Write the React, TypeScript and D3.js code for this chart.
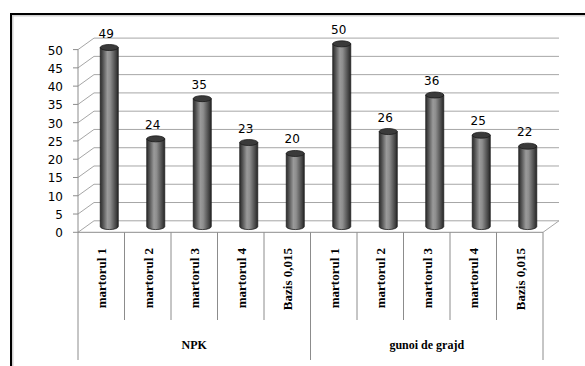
import React from "react";
import * as d3 from "d3";

const groups = ["NPK", "gunoi de grajd"];
const categories = ["martorul 1", "martorul 2", "martorul 3", "martorul 4", "Bazis 0,015"];
const npkValues = [49, 24, 35, 23, 20];
const gunoiValues = [50, 26, 36, 25, 22];
const yTicks = [0, 5, 10, 15, 20, 25, 30, 35, 40, 45, 50];

const W = 585;
const H = 366;
const DX = 16;
const DY = -11.5;

export default function App() {
  const items = [
    ...npkValues.map((v, i) => ({ key: `g0-${i}`, group: 0, label: categories[i], value: v })),
    ...gunoiValues.map((v, i) => ({ key: `g1-${i}`, group: 1, label: categories[i], value: v })),
  ];
  const x = d3.scaleBand<string>().domain(items.map((d) => d.key)).range([78, 543]).paddingInner(0).paddingOuter(0);
  const y = d3.scaleLinear().domain([0, 50]).range([232.3, 49.6]);
  const bw = x.bandwidth();
  const barR = 9;
  const ry = 3;
  const gridColor = "#a6a6a6";
  const axisColor = "#8c8c8c";
  const groupEdges = [78, 78 + bw * 5, 543];

  return (
    <svg width={W} height={H} style={{ position: "absolute", left: 0, top: 0, background: "#fff" }}>
      <defs>
        <linearGradient id="cyl" x1="0" x2="1" y1="0" y2="0">
          <stop offset="0%" stopColor="#2e2e2e" />
          <stop offset="12%" stopColor="#4a4a4a" />
          <stop offset="40%" stopColor="#9a9a9a" />
          <stop offset="55%" stopColor="#8e8e8e" />
          <stop offset="85%" stopColor="#4a4a4a" />
          <stop offset="100%" stopColor="#262626" />
        </linearGradient>
      </defs>
      {/* frame */}
      <rect x={12.5} y={15.5} width={640} height={400} fill="none" stroke="#d0d0d0" strokeWidth={2} />
      <rect x={11} y={14} width={640} height={400} fill="none" stroke="#000" strokeWidth={2} />

      {/* back wall gridlines and left wall diagonals */}
      {yTicks.map((t) => (
        <g key={t}>
          <line x1={78 + DX} x2={543 + DX} y1={y(t) + DY} y2={y(t) + DY} stroke={gridColor} strokeWidth={1} />
          <line x1={78} x2={78 + DX} y1={y(t)} y2={y(t) + DY} stroke={gridColor} strokeWidth={1} />
          <line x1={73} x2={78} y1={y(t)} y2={y(t)} stroke={axisColor} strokeWidth={1} />
          <text
            x={63}
            y={y(t) + 5}
            textAnchor="end"
            fontFamily="DejaVu Sans, Verdana, sans-serif"
            fontSize={12}
            fill="#000"
          >
            {t}
          </text>
        </g>
      ))}
      {/* right floor edge */}
      <line x1={543} x2={543 + DX} y1={y(0)} y2={y(0) + DY} stroke={gridColor} />
      {/* y axis line */}
      <line x1={78} x2={78} y1={y(50)} y2={y(0)} stroke={axisColor} />
      {/* floor front line */}
      <line x1={78} x2={543} y1={y(0)} y2={y(0)} stroke={axisColor} />

      {/* bars */}
      {items.map((d) => {
        const cx = (x(d.key) as number) + bw / 2 + DX / 2;
        const yTop = y(d.value) + DY / 2;
        const yBot = y(0) + DY / 2;
        const path = `M${cx - barR},${yTop} L${cx - barR},${yBot} A${barR},${ry} 0 0 0 ${cx + barR},${yBot} L${cx + barR},${yTop} Z`;
        return (
          <g key={d.key}>
            <path d={path} fill="url(#cyl)" stroke="#1e1e1e" strokeWidth={0.8} />
            <ellipse cx={cx} cy={yTop} rx={barR} ry={ry} fill="#3a3a3a" stroke="#1a1a1a" strokeWidth={0.8} />
            <text
              x={cx - 3}
              y={yTop - 10}
              textAnchor="middle"
              fontFamily="DejaVu Sans, Verdana, sans-serif"
              fontSize={12}
              fill="#000"
            >
              {d.value}
            </text>
          </g>
        );
      })}

      {/* category axis separators */}
      {items.map((d, i) => {
        const xl = x(d.key) as number;
        if (i === 0 || i === 5) return null;
        return <line key={`s${i}`} x1={xl} x2={xl} y1={y(0)} y2={320} stroke={axisColor} />;
      })}
      {groupEdges.map((gx, i) => (
        <line key={`ge${i}`} x1={gx} x2={gx} y1={y(0)} y2={360} stroke={axisColor} />
      ))}

      {/* category labels */}
      {items.map((d) => {
        const cx = (x(d.key) as number) + bw / 2 + 1;
        return (
          <text
            key={`l${d.key}`}
            transform={`translate(${cx + 4},248) rotate(-90)`}
            textAnchor="end"
            fontFamily="Liberation Serif, Times New Roman, serif"
            fontWeight="bold"
            fontSize={13}
            fill="#000"
          >
            {d.label}
          </text>
        );
      })}
      {/* group labels */}
      {groups.map((g, i) => (
        <text
          key={g}
          x={(groupEdges[i] + groupEdges[i + 1]) / 2}
          y={349}
          textAnchor="middle"
          fontFamily="Liberation Serif, Times New Roman, serif"
          fontWeight="bold"
          fontSize={12}
          fill="#000"
        >
          {g}
        </text>
      ))}
    </svg>
  );
}
